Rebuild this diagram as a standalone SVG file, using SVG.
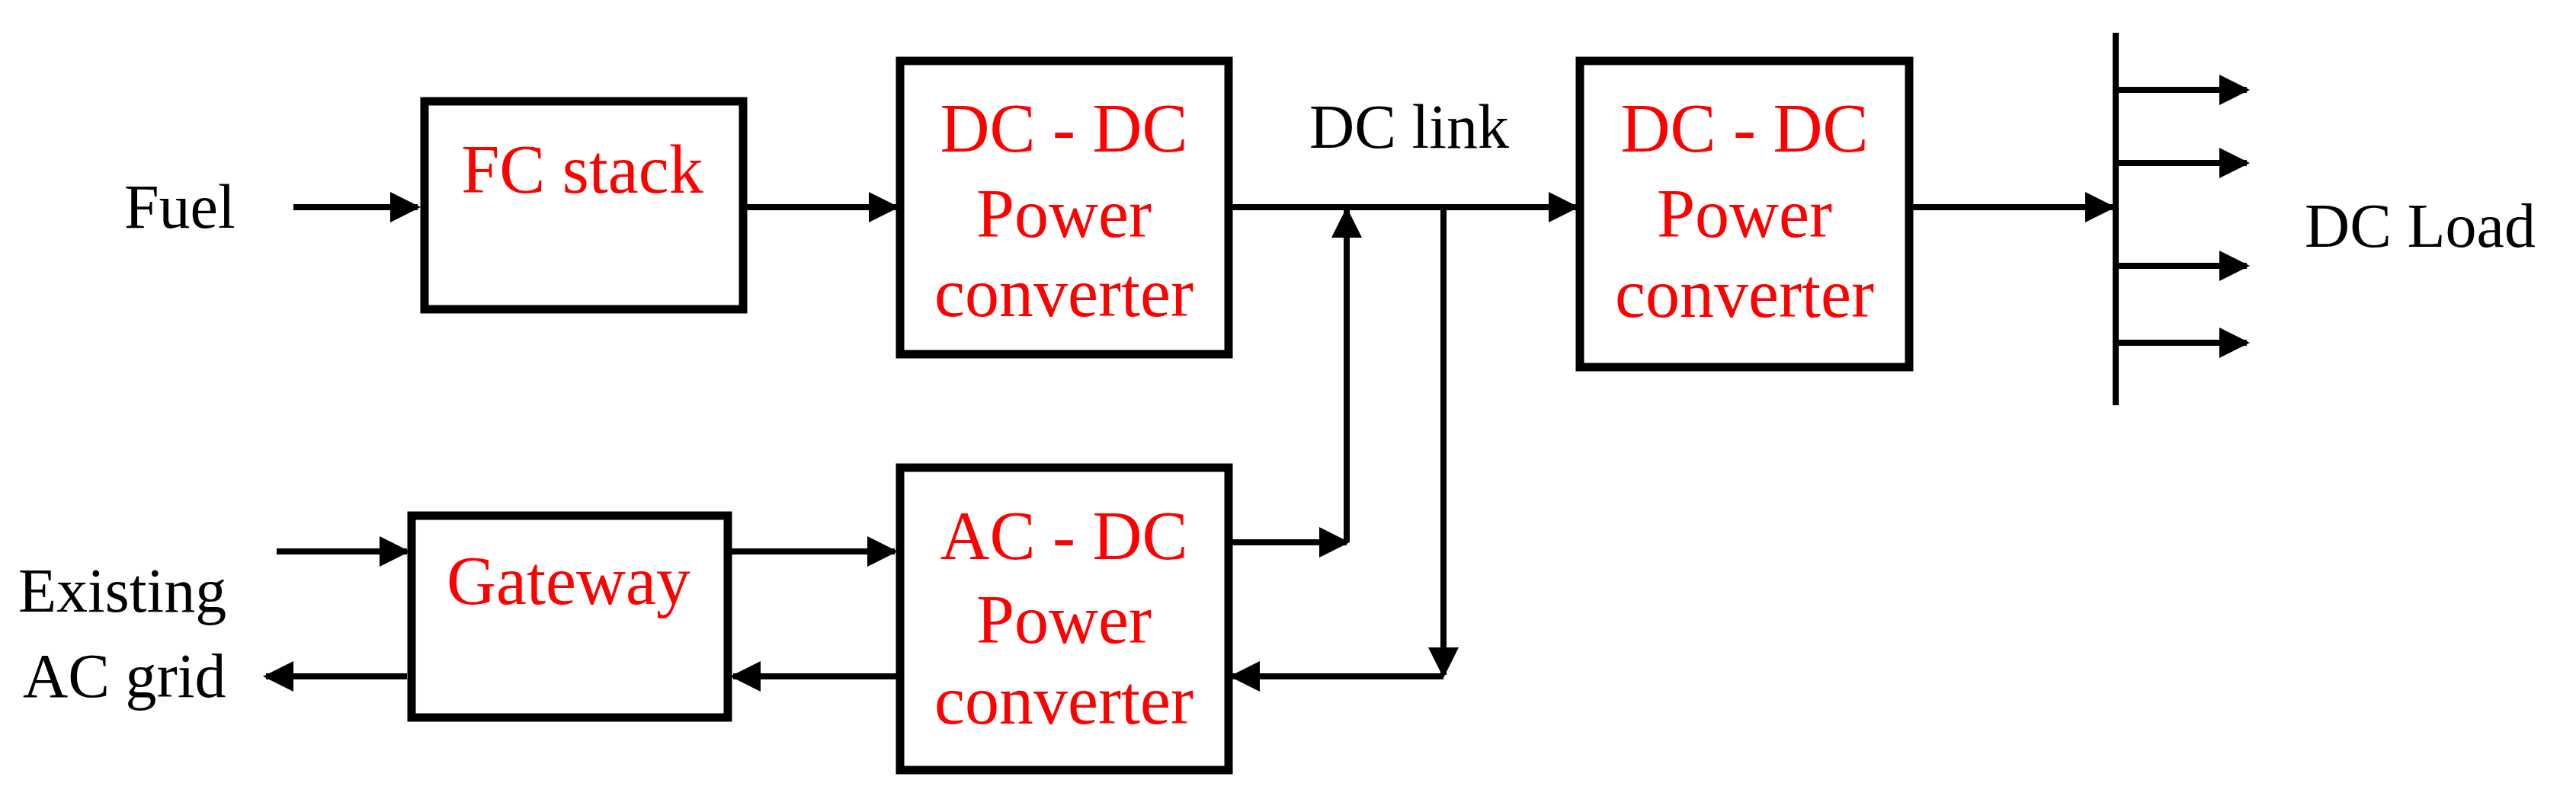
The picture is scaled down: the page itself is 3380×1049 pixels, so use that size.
<svg xmlns="http://www.w3.org/2000/svg" width="3380" height="1049" viewBox="0 0 3380 1049">
<style>
.box{fill:#fff;stroke:#000;stroke-width:11}
.ln{fill:none;stroke:#000;stroke-width:8}
.r{font-family:"Liberation Serif",serif;font-size:90px;fill:#f00;text-anchor:middle}
.k{font-family:"Liberation Serif",serif;font-size:82px;fill:#000}
</style>
<defs>
<marker id="a" markerWidth="5" markerHeight="5" refX="4.5" refY="2.5" orient="auto" markerUnits="strokeWidth"><path d="M0,0 L5,2.5 L0,5 Z" fill="#000"/></marker>
</defs>
<rect width="3380" height="1049" fill="#fff"/>
<g id="connectors">
<line class="ln" x1="385" y1="272" x2="548" y2="272" marker-end="url(#a)"/>
<line class="ln" x1="977" y1="272" x2="1176" y2="272" marker-end="url(#a)"/>
<line class="ln" x1="1613" y1="272" x2="2068" y2="272" marker-end="url(#a)"/>
<polyline class="ln" points="1613,712 1767,712" marker-end="url(#a)"/>
<line class="ln" x1="1767" y1="712" x2="1767" y2="276" marker-end="url(#a)"/>
<line class="ln" x1="1894" y1="272" x2="1894" y2="886" marker-end="url(#a)"/>
<line class="ln" x1="1894" y1="888" x2="1617" y2="888" marker-end="url(#a)"/>
<line class="ln" x1="363" y1="724" x2="534" y2="724" marker-end="url(#a)"/>
<line class="ln" x1="959" y1="724" x2="1174" y2="724" marker-end="url(#a)"/>
<line class="ln" x1="1176" y1="888" x2="962" y2="888" marker-end="url(#a)"/>
<line class="ln" x1="534" y1="888" x2="349" y2="888" marker-end="url(#a)"/>
<line class="ln" x1="2506" y1="272" x2="2772" y2="272" marker-end="url(#a)"/>
<line class="ln" x1="2776" y1="43" x2="2776" y2="532"/>
<line class="ln" x1="2776" y1="118" x2="2948" y2="118" marker-end="url(#a)"/>
<line class="ln" x1="2776" y1="214" x2="2948" y2="214" marker-end="url(#a)"/>
<line class="ln" x1="2776" y1="349" x2="2948" y2="349" marker-end="url(#a)"/>
<line class="ln" x1="2776" y1="450" x2="2948" y2="450" marker-end="url(#a)"/>
</g>
<g id="fc"><rect class="box" x="557" y="133" width="418" height="273"/><text class="r" x="764" y="253">FC stack</text></g>
<g id="dcdc1"><rect class="box" x="1181" y="80" width="431" height="385"/><text class="r" x="1396" y="199">DC - DC</text><text class="r" x="1396" y="311">Power</text><text class="r" x="1396" y="415">converter</text></g>
<g id="gateway"><rect class="box" x="540" y="677" width="415" height="265"/><text class="r" x="746" y="793">Gateway</text></g>
<g id="acdc"><rect class="box" x="1181" y="614" width="431" height="397"/><text class="r" x="1396" y="734">AC - DC</text><text class="r" x="1396" y="844">Power</text><text class="r" x="1396" y="950">converter</text></g>
<g id="dcdc2"><rect class="box" x="2073" y="80" width="432" height="402"/><text class="r" x="2289" y="199">DC - DC</text><text class="r" x="2289" y="311">Power</text><text class="r" x="2289" y="416">converter</text></g>
<g id="labels">
<text class="k" x="163" y="299">Fuel</text>
<text class="k" x="1718" y="194">DC link</text>
<text class="k" x="3024" y="324">DC Load</text>
<text class="k" x="24" y="803">Existing</text>
<text class="k" x="30" y="915">AC grid</text>
</g>
</svg>
